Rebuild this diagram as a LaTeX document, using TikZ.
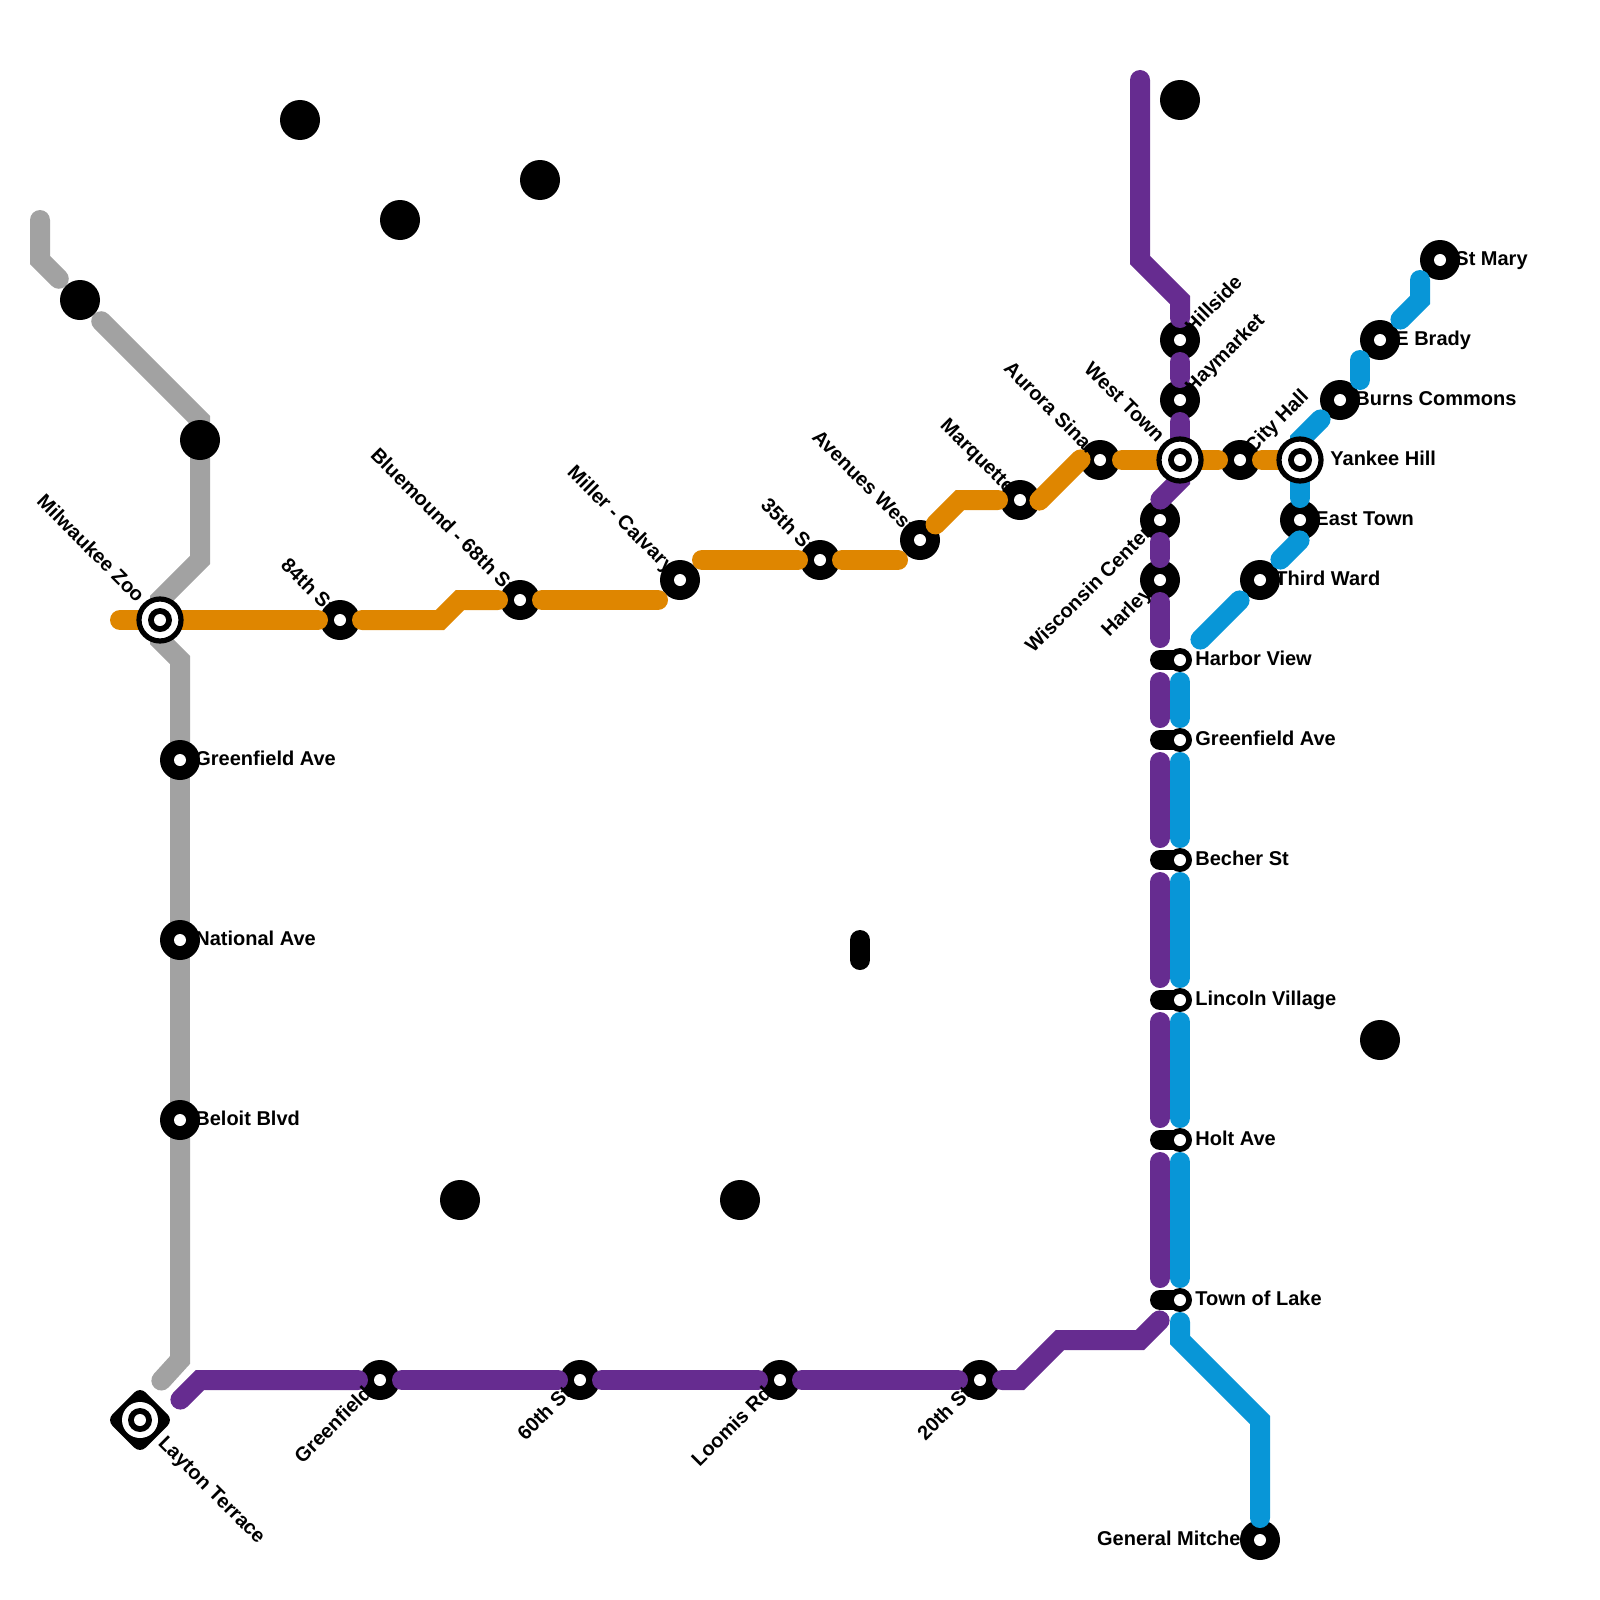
\documentclass[tikz,border=0pt]{standalone}
\usepackage{fontspec}
\setmainfont{Liberation Sans}
\definecolor{prp}{HTML}{662C90}
\definecolor{org}{HTML}{DF8600}
\definecolor{gry}{HTML}{A2A2A2}
\definecolor{blu}{HTML}{0896D7}
\tikzset{
  gap/.style={circle, minimum size=20pt, inner sep=0pt, outer sep=0pt},
  stn/.style={gap, fill=black},
  hole/.style={circle, fill=white, minimum size=6pt, inner sep=0pt, outer sep=0pt},
  nub/.style={circle, fill=black, minimum size=12pt, inner sep=0pt, outer sep=0pt},
  ringo/.style={circle, draw=black, fill=white, line width=2.6pt, minimum size=21pt, inner sep=0pt, outer sep=0pt},
  ln/.style={line width=10pt, line cap=round, shorten <=1pt, shorten >=1pt},
  lbl/.style={font=\bfseries\fontsize{10}{12}\selectfont, inner sep=0pt},
  lble/.style={lbl, anchor=base west, xshift=7.5pt, yshift=-2.5pt},
  lblw/.style={lbl, anchor=base east, xshift=-4pt, yshift=-2.5pt},
  lblne/.style={lbl, rotate=45, anchor=base west, xshift=6.5pt, yshift=-2.5pt},
  lblse/.style={lbl, rotate=-45, anchor=base west, xshift=14.5pt, yshift=-2.5pt},
  lblnw/.style={lbl, rotate=-45, anchor=base east, xshift=-6.5pt, yshift=-2.5pt},
  lblsw/.style={lbl, rotate=45, anchor=base east, xshift=-7.5pt, yshift=-2.5pt}}
\begin{document}
\begin{tikzpicture}[x=0.5pt, y=-0.5pt]
\useasboundingbox (0,0) rectangle (1600,1600);
% stations under the lines
\foreach \s/\x/\y in {gn/380/1380, st/580/1380, lo/780/1380, tw/980/1380,
    eg/340/620, bm/520/600, mc/680/580, th/820/560, av/920/540, mq/1020/500, au/1100/460,
    hs/1180/340, hy/1180/400, ch/1240/460, wc/1160/520, ha/1160/580,
    et/1300/520, tr/1260/580, bc/1340/400, eb/1380/340, sm/1440/260, gm/1260/1540}
  \node[stn] (\s) at (\x,\y) {};
\foreach \s/\x/\y in {zoo/160/620, wt/1180/460, yh/1300/460, lay/140/1420, wA/80/300, wB/200/440,
    gw/180/760, na/180/940, be/180/1120}
  \node[gap] (\s) at (\x,\y) {};
\foreach \s/\y in {hv/660, ga/740, bs/860, lv/1000, ho/1140, tl/1300} {
  \node[gap] (p\s) at (1160,\y) {};
  \node[gap] (b\s) at (1180,\y) {};
  \draw[line width=10pt, line cap=round] (p\s.center) -- (b\s.center);
  \node[nub] (n\s) at (b\s.center) {};}
% free line ends
\foreach \c/\x/\y in {gA/40/218, gB/160/1382, oA/118/620, oB/660/600, oC/700/560, oD/900/560, oE/1038/502, oF/1082/458,
    pA/1140/78, pB/1159/501, pC/1161/1319, pD/179/1401,
    bA/1360/382, bB/1360/358, bC/1399/321, bD/1420/278, bE/1301/539, bF/1279/561, bG/1241/599, bH/1199/641, bI/1322/418}
  \coordinate (\c) at (\x,\y);
% lines
\draw[ln, gry, shorten >=5pt] (gA) -- (40,260) -- (wA);
\draw[ln, gry, shorten <=5pt] (wA) -- (200,420) -- (wB.center);
\draw[ln, gry] (wB.center) -- (200,560) -- (160,600) -- (zoo.center);
\draw[ln, gry] (zoo.center) -- (160,640) -- (180,660) -- (gw.center);
\foreach \p/\q in {gw/na, na/be} \draw[ln, gry] (\p.center) -- (\q.center);
\draw[ln, gry] (be.center) -- (180,1360) -- (gB);
\draw[ln, org] (oA) -- (zoo.center);
\draw[ln, org] (zoo.center) -- (eg);
\draw[ln, org] (eg) -- (440,620) -- (460,600) -- (bm);
\draw[ln, org] (bm) -- (oB);
\draw[ln, org] (oC) -- (th);
\draw[ln, org] (th) -- (oD);
\draw[ln, org] (av) -- (960,500) -- (mq);
\draw[ln, org] (oE) -- (oF);
\draw[ln, org] (au) -- (wt.center);
\draw[ln, org] (wt.center) -- (ch);
\draw[ln, org] (ch) -- (yh.center);
\draw[ln, prp] (pD) -- (200,1380) -- (gn);
\foreach \p/\q in {gn/st, st/lo, lo/tw} \draw[ln, prp] (\p) -- (\q);
\draw[ln, prp] (tw) -- (1020,1380) -- (1060,1340) -- (1140,1340) -- (pC);
\draw[ln, prp] (pA) -- (1140,260) -- (1180,300) -- (hs);
\draw[ln, prp] (hs) -- (hy);
\draw[ln, prp] (hy) -- (wt.center);
\draw[ln, prp] (wt.center) -- (1180,480) -- (pB);
\draw[ln, prp] (wc) -- (ha);
\draw[ln, prp] (ha) -- (phv);
\foreach \p/\q in {hv/ga, ga/bs, bs/lv, lv/ho, ho/tl} {
  \draw[ln, prp] (p\p) -- (p\q);
  \draw[ln, blu] (b\p) -- (b\q);}
\draw[ln, blu] (btl) -- (1180,1340) -- (1260,1420) -- (gm);
\draw[ln, blu] (bH) -- (bG);
\draw[ln, blu] (bF) -- (bE);
\draw[ln, blu] (et) -- (yh.center);
\draw[ln, blu] (yh.center) -- (1300,440) -- (bI);
\draw[ln, blu] (bA) -- (bB);
\draw[ln, blu] (bC) -- (1420,300) -- (bD);
% discs that sit on the grey line
\foreach \s in {gw, na, be}
  \node[stn] (d\s) at (\s.center) {};
% holes and rings
\foreach \s in {gw, na, be, gn, st, lo, tw, eg, bm, mc, th, av, mq, au, hs, hy, ch, wc, ha, et, tr, bc, eb, sm, gm,
    bhv, bga, bbs, blv, bho, btl}
  \node[hole] (h\s) at (\s.center) {};
\foreach \s in {zoo, wt, yh} {
  \node[ringo] (r\s) at (\s.center) {};
  \node[nub] (c\s) at (\s.center) {};
  \node[hole] (h\s) at (\s.center) {};}
\node[fill=black, rotate=45, rounded corners=4pt, minimum size=23.5pt, inner sep=0pt, outer sep=0pt] (dlay) at (lay.center) {};
\node[circle, fill=white, minimum size=18pt, inner sep=0pt, outer sep=0pt] (wlay) at (lay.center) {};
\node[nub] (clay) at (lay.center) {};
\node[hole] (hlay) at (lay.center) {};
% lone discs
\foreach \x/\y [count=\i] in {300/120, 400/220, 540/180, 80/300, 200/440, 1180/100, 1380/1040, 460/1200, 740/1200}
  \node[stn] (blob\i) at (\x,\y) {};
\coordinate (barA) at (860,940);
\coordinate (barB) at (860,960);
\draw[line width=10pt, line cap=round] (barA) -- (barB);
% labels
\foreach \s/\t in {gw/Greenfield Ave, na/National Ave, be/Beloit Blvd, et/East Town, tr/Third Ward, bc/Burns Commons,
    eb/E Brady, sm/St Mary, bhv/Harbor View, bga/Greenfield Ave, bbs/Becher St, blv/Lincoln Village, bho/Holt Ave, btl/Town of Lake}
  \node[lble] (t\s) at (\s.center) {\t};
\node[lble, xshift=7.5pt] (tyh) at (yh.center) {Yankee Hill};
\node[lblw] (tgm) at (gm.center) {General Mitchell};
\foreach \s/\t in {hs/Hillside, hy/Haymarket, ch/City Hall}
  \node[lblne] (t\s) at (\s.center) {\t};
\foreach \s/\t in {eg/84th St, bm/Bluemound - 68th St, mc/Miller - Calvary, th/35th St, av/Avenues West,
    mq/Marquette, au/Aurora Sinai}
  \node[lblnw] (t\s) at (\s.center) {\t};
\foreach \s/\t in {zoo/Milwaukee Zoo, wt/West Town}
  \node[lblnw, xshift=-7.5pt] (t\s) at (\s.center) {\t};
\foreach \s/\t in {gn/Greenfield, st/60th St, lo/Loomis Rd, tw/20th St, wc/Wisconsin Center, ha/Harley}
  \node[lblsw] (t\s) at (\s.center) {\t};
\node[lblse] (tlay) at (lay.center) {Layton Terrace};
\end{tikzpicture}
\end{document}
